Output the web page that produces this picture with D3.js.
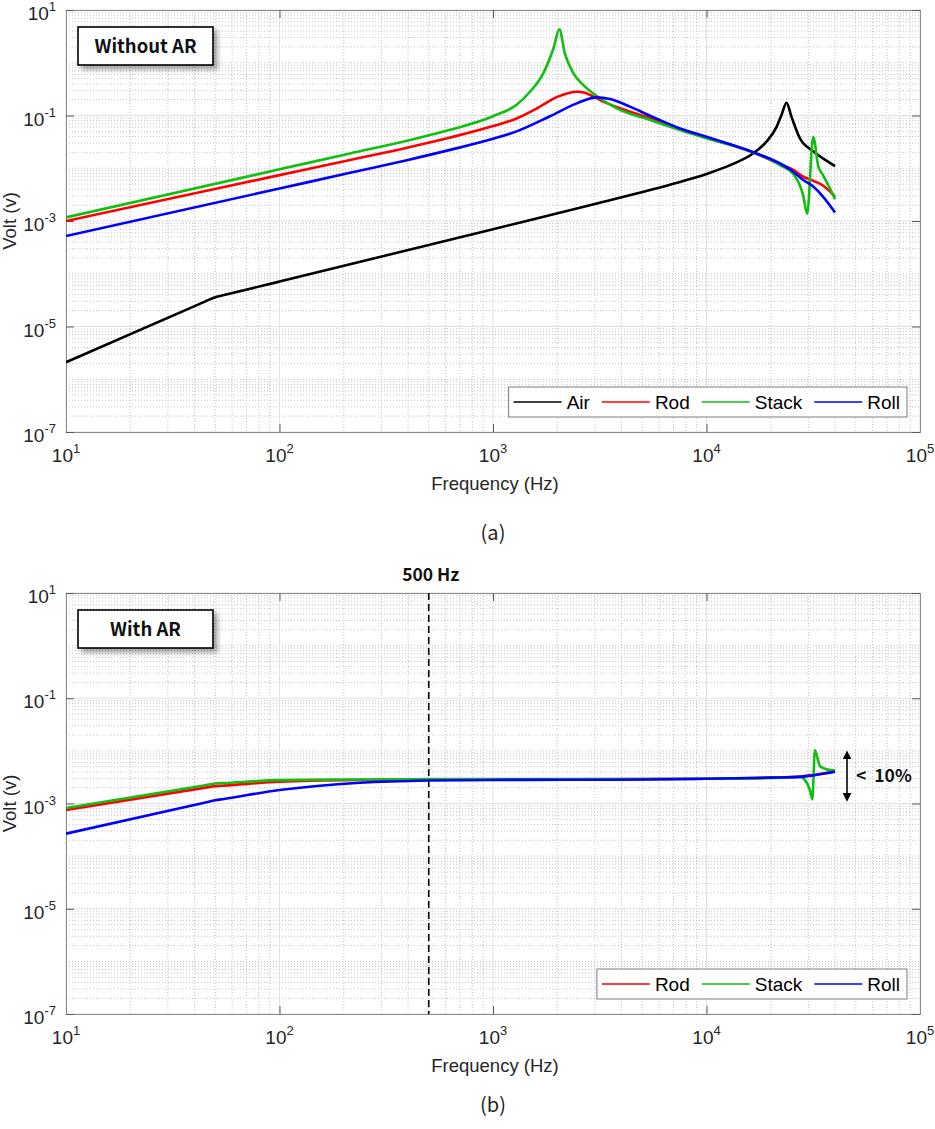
<!DOCTYPE html>
<html><head><meta charset="utf-8">
<script src="https://cdn.jsdelivr.net/npm/d3@7"></script>
<style>body{margin:0;background:#fff}svg{display:block}</style>
</head><body>
<script>
// ---------- data ----------
const freqTicks = [10, 100, 1000, 10000, 100000];
const freqTickExp = ["1", "2", "3", "4", "5"];
const voltTicks = [1e1, 1e-1, 1e-3, 1e-5, 1e-7];
const voltTickExp = ["1", "-1", "-3", "-5", "-7"];
const seriesNamesA = ["Air", "Rod", "Stack", "Roll"];
const seriesNamesB = ["Rod", "Stack", "Roll"];
const seriesColors = {Air: "#000000", Rod: "#ff0000", Stack: "#10bf10", Roll: "#0000ff"};

// (a) Without AR
const airF_a = [10, 45, 50, 55, 100, 1000, 3000, 5440, 7510, 10000, 13400, 16500, 19100, 21300, 22500, 23700, 25000, 27400, 31600, 35100, 40000];
const airV_a = [2.1e-6, 3.0e-5, 3.6e-5, 3.95e-5, 7.1e-5, 7.0e-4, 2.1e-3, 3.85e-3, 5.5e-3, 7.8e-3, 0.0122, 0.0191, 0.032, 0.061, 0.105, 0.175, 0.095, 0.0367, 0.021, 0.0154, 0.011];
const rodF_a = [10, 100, 214, 400, 630, 1000, 1290, 1600, 2000, 2240, 2470, 2690, 2850, 3280, 4060, 5440, 7510, 10000, 16500, 22100, 25500, 28400, 31600, 35100, 40000];
const rodV_a = [1.0e-3, 7.41e-3, 0.01436, 0.0248, 0.0382, 0.063, 0.088, 0.135, 0.225, 0.265, 0.282, 0.27, 0.245, 0.183, 0.131, 0.0885, 0.055, 0.038, 0.020, 0.0119, 0.0093, 0.0069, 0.0058, 0.0047, 0.0029];
const stackF_a = [10, 100, 214, 400, 630, 1000, 1290, 1490, 1720, 1920, 2045, 2170, 2380, 2650, 3060, 3800, 5440, 7510, 10000, 16500, 22100, 25500, 28400, 29600, 31600, 33400, 35100, 37800, 40000];
const stackV_a = [1.17e-3, 9.55e-3, 0.01905, 0.0337, 0.0535, 0.097, 0.16, 0.282, 0.63, 1.88, 4.3, 1.5, 0.63, 0.378, 0.234, 0.137, 0.082, 0.053, 0.037, 0.020, 0.0115, 0.0078, 0.003, 0.00136, 0.039, 0.0108, 0.00745, 0.0042, 0.0026];
const rollF_a = [10, 100, 214, 400, 630, 1000, 1290, 1850, 2470, 3060, 3530, 4380, 5440, 7510, 10000, 16500, 22100, 25500, 28400, 31600, 35100, 40000];
const rollV_a = [5.2e-4, 4.13e-3, 8.18e-3, 0.0144, 0.0223, 0.0361, 0.050, 0.097, 0.170, 0.221, 0.206, 0.147, 0.099, 0.0568, 0.0395, 0.0203, 0.0123, 0.0086, 0.0060, 0.0045, 0.0029, 0.00145];

// (b) With AR
const rodF_b = [10, 45, 50, 55, 100, 238, 500, 1000, 5000, 10000, 20000, 27400, 32000, 40000];
const rodV_b = [7.5e-4, 2.0e-3, 2.14e-3, 2.19e-3, 2.59e-3, 2.8e-3, 2.85e-3, 2.87e-3, 2.9e-3, 2.95e-3, 3.1e-3, 3.25e-3, 3.5e-3, 4.1e-3];
const stackF_b = [10, 45, 50, 55, 100, 238, 500, 1000, 5000, 10000, 20000, 27400, 29500, 30600, 31300, 32200, 34000, 37000, 40000];
const stackV_b = [8.2e-4, 2.23e-3, 2.4e-3, 2.45e-3, 2.78e-3, 2.86e-3, 2.9e-3, 2.9e-3, 2.92e-3, 2.95e-3, 3.05e-3, 3.2e-3, 2.48e-3, 1.72e-3, 1.2e-3, 0.0103, 5.1e-3, 4.4e-3, 4.25e-3];
const rollF_b = [10, 45, 50, 55, 100, 238, 500, 1000, 5000, 10000, 20000, 27400, 32000, 40000];
const rollV_b = [2.67e-4, 1.045e-3, 1.15e-3, 1.22e-3, 1.8e-3, 2.48e-3, 2.74e-3, 2.8e-3, 2.85e-3, 2.95e-3, 3.1e-3, 3.2e-3, 3.45e-3, 4.0e-3];

const markerFreq = 500;
const markerLabel = "500 Hz";
const rangeLabel = "< 10%";
const rangeV = [1.0e-2, 1.1e-3];

// ---------- drawing ----------
const W = 935, H = 1129;
const svg = d3.select("body").append("svg").attr("width", W).attr("height", H);
const defs = svg.append("defs");
const f = defs.append("filter").attr("id", "shadow").attr("x", "-20%").attr("y", "-30%").attr("width", "150%").attr("height", "180%");
f.append("feDropShadow").attr("dx", 4).attr("dy", 4).attr("stdDeviation", 2.5).attr("flood-color", "#000").attr("flood-opacity", 0.35);
defs.append("marker").attr("id", "arr").attr("viewBox", "0 0 10 10").attr("refX", 5).attr("refY", 5)
  .attr("markerWidth", 9).attr("markerHeight", 9).attr("orient", "auto-start-reverse").attr("markerUnits", "userSpaceOnUse")
  .append("path").attr("d", "M0,0 L10,5 L0,10 z").attr("fill", "#000");

const FONT = "'Liberation Sans', Arial, Helvetica, sans-serif";
const KFONT = "'Noto Sans CJK KR', 'Noto Sans', sans-serif";
const L = 66, R = 920;

const panels = [
  {top: 10, bottom: 432, title: "Without AR", caption: "(a)", captionY: 533, names: seriesNamesA,
   data: {Air: [airF_a, airV_a], Rod: [rodF_a, rodV_a], Stack: [stackF_a, stackV_a], Roll: [rollF_a, rollV_a]}},
  {top: 593, bottom: 1014, title: "With AR", caption: "(b)", captionY: 1105, names: seriesNamesB,
   data: {Rod: [rodF_b, rodV_b], Stack: [stackF_b, stackV_b], Roll: [rollF_b, rollV_b]}, marker: true}
];

panels.forEach(p => {
  const x = d3.scaleLog().domain([10, 1e5]).range([L, R]);
  const y = d3.scaleLog().domain([1e-7, 1e1]).range([p.bottom, p.top]);
  const g = svg.append("g");
  // minor grid
  const xMinor = [], yMinor = [];
  for (let k = 1; k < 5; k++) for (let m = 2; m <= 9; m++) xMinor.push(m * Math.pow(10, k));
  for (let k = -7; k < 1; k++) for (let m = 1; m <= 9; m++) {
    if (m === 1 && voltTicks.some(t => Math.abs(Math.log10(t) - k) < 1e-9)) continue;
    yMinor.push(m * Math.pow(10, k));
  }
  g.selectAll(".xm").data(xMinor).enter().append("line")
    .attr("x1", d => x(d)).attr("x2", d => x(d)).attr("y1", p.top).attr("y2", p.bottom)
    .attr("stroke", "#c4c4c4").attr("stroke-width", 1).attr("stroke-dasharray", "1,2");
  g.selectAll(".ym").data(yMinor).enter().append("line")
    .attr("y1", d => y(d)).attr("y2", d => y(d)).attr("x1", L).attr("x2", R)
    .attr("stroke", "#c4c4c4").attr("stroke-width", 1).attr("stroke-dasharray", "1,2");
  // major grid
  g.selectAll(".xg").data(freqTicks).enter().append("line")
    .attr("x1", d => x(d)).attr("x2", d => x(d)).attr("y1", p.top).attr("y2", p.bottom)
    .attr("stroke", "#e1e1e1").attr("stroke-width", 1);
  g.selectAll(".yg").data(voltTicks).enter().append("line")
    .attr("y1", d => y(d)).attr("y2", d => y(d)).attr("x1", L).attr("x2", R)
    .attr("stroke", "#e1e1e1").attr("stroke-width", 1);

  // axes (ticks inward)
  const axB = d3.axisBottom(x).tickValues(freqTicks).tickSize(-8).tickFormat("");
  const axT = d3.axisTop(x).tickValues(freqTicks).tickSize(-8).tickFormat("");
  const axL = d3.axisLeft(y).tickValues(voltTicks).tickSize(-8).tickFormat("");
  const axR = d3.axisRight(y).tickValues(voltTicks).tickSize(-8).tickFormat("");
  [[axB, `translate(0,${p.bottom})`], [axT, `translate(0,${p.top})`], [axL, `translate(${L},0)`], [axR, `translate(${R},0)`]].forEach(([a, t]) => {
    const ag = g.append("g").attr("transform", t).call(a);
    ag.selectAll("path").attr("stroke", "#8a8a8a");
    ag.selectAll("line").attr("stroke", "#5a5a5a");
  });

  // tick labels
  freqTicks.forEach((v, i) => {
    const t = g.append("text").attr("x", x(v)).attr("y", p.bottom + 30).attr("text-anchor", "middle")
      .attr("font-family", FONT).attr("font-size", 19).attr("fill", "#262626");
    t.append("tspan").text("10");
    t.append("tspan").attr("dy", -9).attr("font-size", 13).text(freqTickExp[i]);
  });
  voltTicks.forEach((v, i) => {
    const t = g.append("text").attr("x", 56).attr("y", y(v) + 10).attr("text-anchor", "end")
      .attr("font-family", FONT).attr("font-size", 19).attr("fill", "#262626");
    t.append("tspan").text("10");
    t.append("tspan").attr("dy", -9).attr("font-size", 13).text(voltTickExp[i]);
  });
  g.append("text").attr("x", (L + R) / 2 + 2).attr("y", p.bottom + 58).attr("text-anchor", "middle")
    .attr("font-family", FONT).attr("font-size", 18.5).attr("fill", "#262626").text("Frequency (Hz)");
  g.append("text").attr("transform", `translate(16,${(p.top + p.bottom) / 2}) rotate(-90)`).attr("text-anchor", "middle")
    .attr("font-family", FONT).attr("font-size", 18.5).attr("fill", "#262626").text("Volt (v)");

  // marker line
  if (p.marker) {
    g.append("line").attr("x1", x(markerFreq)).attr("x2", x(markerFreq)).attr("y1", p.top).attr("y2", p.bottom)
      .attr("stroke", "#000").attr("stroke-width", 1.6).attr("stroke-dasharray", "7,4");
    g.append("text").attr("x", x(markerFreq) + 2).attr("y", p.top - 12).attr("text-anchor", "middle")
      .attr("font-family", KFONT).attr("font-weight", 700).attr("font-size", 17.5).attr("fill", "#111").text(markerLabel);
  }

  // series
  const line = d3.line().x(d => x(d[0])).y(d => y(d[1])).curve(d3.curveMonotoneX);
  const clipId = "clip" + p.top;
  defs.append("clipPath").attr("id", clipId).append("rect").attr("x", L).attr("y", p.top).attr("width", R - L).attr("height", p.bottom - p.top);
  p.names.forEach(n => {
    const [fs, vs] = p.data[n];
    const pts = fs.map((fv, i) => [fv, vs[i]]);
    g.append("path").datum(pts).attr("d", line).attr("fill", "none").attr("stroke", seriesColors[n])
      .attr("stroke-width", 2.6).attr("stroke-linejoin", "round").attr("clip-path", `url(#${clipId})`);
  });

  // range arrow
  if (p.marker) {
    const ax = 847;
    g.append("line").attr("x1", ax).attr("x2", ax).attr("y1", y(rangeV[0]) + 4).attr("y2", y(rangeV[1]) - 4)
      .attr("stroke", "#000").attr("stroke-width", 1.6).attr("marker-start", "url(#arr)").attr("marker-end", "url(#arr)");
    g.append("text").attr("x", 856).attr("y", (y(rangeV[0]) + y(rangeV[1])) / 2 + 6)
      .attr("font-family", KFONT).attr("font-weight", 700).attr("font-size", 17.5).attr("fill", "#111")
      .text(rangeLabel.replace(" ", "\u00a0\u00a0"));
  }

  // title box
  const bx = 78, bw = 135;
  const by = p.top + 17, bh = 38;
  g.append("rect").attr("x", bx).attr("y", by).attr("width", bw).attr("height", bh)
    .attr("fill", "#fff").attr("stroke", "#000").attr("stroke-width", 1.6).attr("filter", "url(#shadow)");
  g.append("text").attr("x", bx + bw / 2).attr("y", by + bh / 2 + 6.5).attr("text-anchor", "middle")
    .attr("font-family", KFONT).attr("font-weight", 700).attr("font-size", 18.5).attr("fill", "#111").text(p.title);

  // legend
  const lg = g.append("g");
  const lineLen = 48, pad = 5, gap = 5, itemGap = 12;
  let cx = 0;
  const items = [];
  p.names.forEach(n => {
    const t = lg.append("text").attr("font-family", FONT).attr("font-size", 19).attr("fill", "#000").text(n);
    const w = t.node().getComputedTextLength();
    items.push({n, t, x0: cx, w});
    cx += lineLen + gap + w + itemGap;
  });
  const totalW = cx - itemGap + pad + 2 + pad;
  const lRight = 907, lTop = p.bottom - 45, lH = 30;
  const lLeft = lRight - totalW;
  lg.insert("rect", ":first-child").attr("x", lLeft).attr("y", lTop).attr("width", totalW).attr("height", lH)
    .attr("fill", "#fff").attr("stroke", "#7a7a7a").attr("stroke-width", 1);
  items.forEach(it => {
    const sx = lLeft + pad + it.x0;
    lg.append("line").attr("x1", sx).attr("x2", sx + lineLen).attr("y1", lTop + lH / 2).attr("y2", lTop + lH / 2)
      .attr("stroke", seriesColors[it.n]).attr("stroke-width", 1.6);
    it.t.attr("x", sx + lineLen + gap).attr("y", lTop + lH / 2 + 7);
  });

  // caption
  svg.append("text").attr("x", (L + R) / 2).attr("y", p.captionY + 7).attr("text-anchor", "middle")
    .attr("font-family", KFONT).attr("font-size", 20).attr("fill", "#222").text(p.caption);
});
</script>
</body></html>
